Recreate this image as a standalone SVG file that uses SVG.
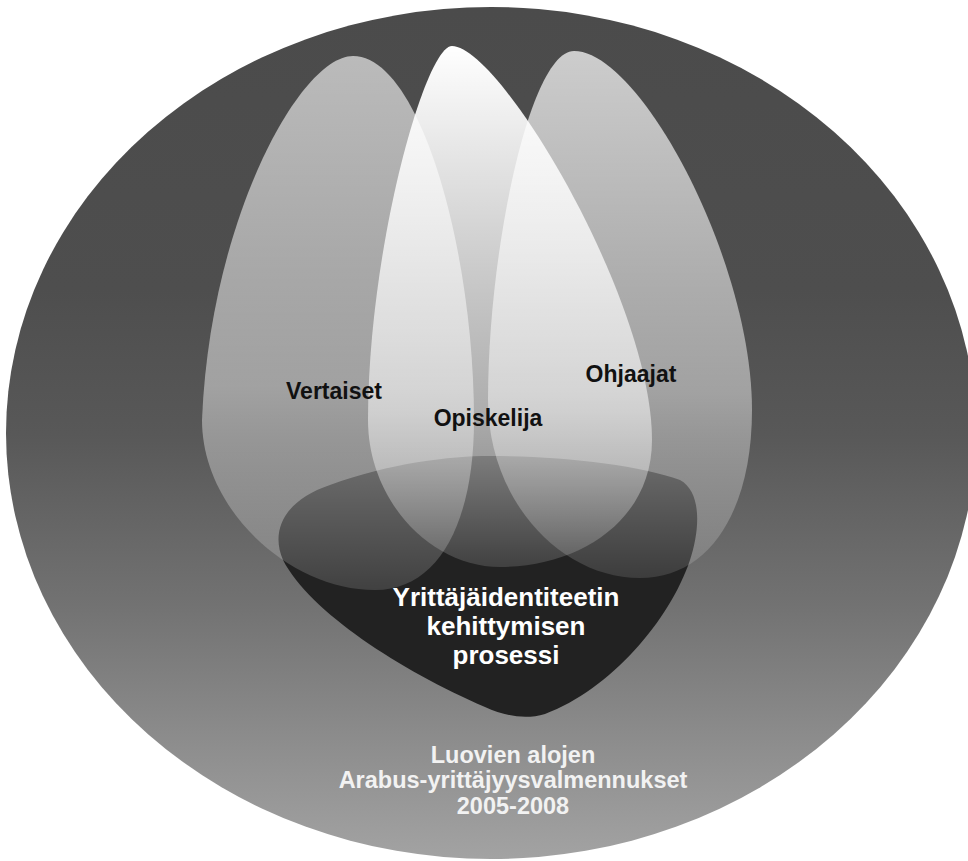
<svg xmlns="http://www.w3.org/2000/svg" width="968" height="861" viewBox="0 0 968 861">
  <defs>
    <linearGradient id="gBg" gradientUnits="userSpaceOnUse" x1="0" y1="7" x2="0" y2="861">
      <stop offset="0" stop-color="#4b4b4b"/>
      <stop offset="0.33" stop-color="#4e4e4e"/>
      <stop offset="0.5" stop-color="#585858"/>
      <stop offset="0.7" stop-color="#727272"/>
      <stop offset="0.85" stop-color="#8b8b8b"/>
      <stop offset="1" stop-color="#a3a3a3"/>
    </linearGradient>
    <linearGradient id="gLeft" x1="0" y1="0" x2="0" y2="1">
      <stop offset="0" stop-color="#fff" stop-opacity="0.62"/>
      <stop offset="0.62" stop-color="#fff" stop-opacity="0.45"/>
      <stop offset="1" stop-color="#fff" stop-opacity="0.14"/>
    </linearGradient>
    <linearGradient id="gMid" x1="0" y1="0" x2="0" y2="1">
      <stop offset="0" stop-color="#fff" stop-opacity="1"/>
      <stop offset="0.7" stop-color="#fff" stop-opacity="0.52"/>
      <stop offset="1" stop-color="#fff" stop-opacity="0.14"/>
    </linearGradient>
    <linearGradient id="gRight" x1="0" y1="0" x2="0" y2="1">
      <stop offset="0" stop-color="#fff" stop-opacity="0.72"/>
      <stop offset="0.65" stop-color="#fff" stop-opacity="0.45"/>
      <stop offset="1" stop-color="#fff" stop-opacity="0.12"/>
    </linearGradient>
    <style>
      .lbl { font-family: "Liberation Sans", Arial, sans-serif; font-weight: bold; text-anchor: middle; }
      .dark { fill: #111; font-size: 23px; }
      .core { fill: #fff; font-size: 26px; }
      .foot { fill: #f2f2f2; font-size: 23.5px; }
    </style>
  </defs>

  <g id="context">
    <ellipse cx="491" cy="433" rx="485" ry="426" fill="url(#gBg)"/>
  </g>

  <g id="process">
    <path d="M283,560 C270,530 285,500 330,485 C390,463 450,456 490,456 C560,456 640,465 680,480 C702,492 700,530 690,560 C670,620 610,690 545,714 C525,720 505,716 485,707 C400,670 310,612 283,560 Z" fill="#222"/>
  </g>

  <g id="vertaiset">
    <path d="M353,56 C300,56 210,220 202,420 C202,510 290,590 375,590 C440,590 474,520 474,420 C474,250 420,56 353,56 Z" fill="url(#gLeft)"/>
  </g>

  <g id="opiskelija">
    <path d="M452,46 C425,46 368,250 368,420 C368,500 430,567 500,567 C580,567 652,520 652,440 C652,300 500,46 452,46 Z" fill="url(#gMid)"/>
  </g>

  <g id="ohjaajat">
    <path d="M574,51 C530,51 488,250 488,400 C488,500 560,578 640,578 C710,578 752,510 752,410 C752,260 640,51 574,51 Z" fill="url(#gRight)"/>
  </g>

  <g id="labels">
    <text class="lbl dark" x="334" y="399">Vertaiset</text>
    <text class="lbl dark" x="488" y="426">Opiskelija</text>
    <text class="lbl dark" x="631" y="382">Ohjaajat</text>
    <text class="lbl core" x="506" y="606">Yrittäjäidentiteetin</text>
    <text class="lbl core" x="506" y="635">kehittymisen</text>
    <text class="lbl core" x="506" y="664">prosessi</text>
    <text class="lbl foot" x="513" y="763">Luovien alojen</text>
    <text class="lbl foot" x="513" y="788">Arabus-yrittäjyysvalmennukset</text>
    <text class="lbl foot" x="513" y="814">2005-2008</text>
  </g>
</svg>
